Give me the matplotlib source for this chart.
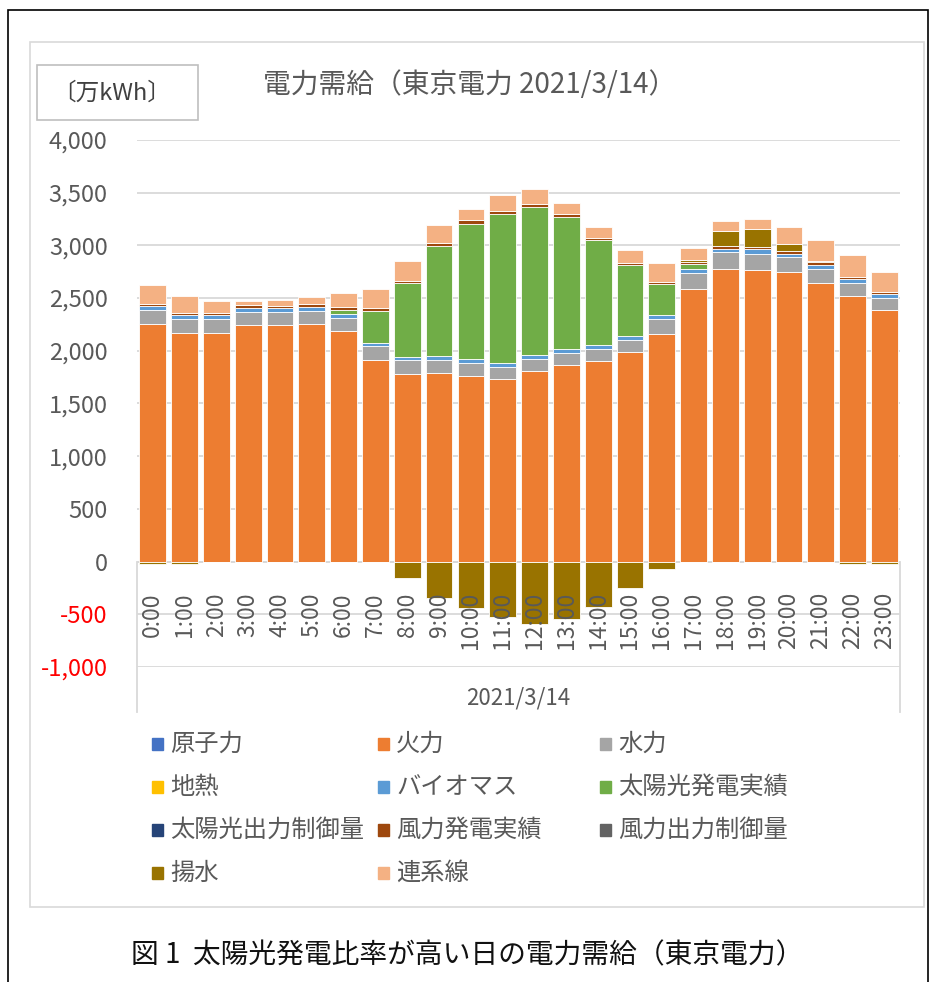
"""Tokyo Electric supply/demand stacked bars for 2021/3/14."""

import matplotlib
matplotlib.use("Agg")
import matplotlib.pyplot as plt
from matplotlib.patches import Rectangle
import numpy as np

plt.rcParams["font.family"] = ["Noto Sans CJK JP", "DejaVu Sans"]

hours = [f"{h}:00" for h in range(24)]

series_names = ["原子力", "火力", "水力", "地熱", "バイオマス", "太陽光発電実績",
                "太陽光出力制御量", "風力発電実績", "風力出力制御量", "揚水", "連系線"]
series_colors = ["#4472C4", "#ED7D31", "#A5A5A5", "#FFC000", "#5B9BD5", "#70AD47",
                 "#264478", "#9E480E", "#636363", "#997300", "#F4B183"]

nuclear = [0] * 24
thermal = [2255, 2166, 2166, 2242, 2242, 2251, 2185, 1914, 1784, 1793, 1758, 1733,
           1806, 1866, 1904, 1986, 2157, 2587, 2773, 2764, 2745, 2641, 2517, 2384]
hydro = [136, 136, 136, 130, 124, 130, 127, 132, 126, 120, 130, 117,
         117, 117, 117, 120, 146, 155, 162, 158, 146, 139, 127, 121]
geothermal = [0] * 24
biomass = [35, 38, 35, 38, 44, 38, 38, 32, 35, 41, 32, 38,
           38, 35, 38, 35, 34, 35, 35, 41, 31, 38, 38, 35]
solar = [0, 0, 0, 0, 0, 0, 41, 303, 696, 1044, 1287, 1414,
         1407, 1255, 993, 674, 294, 44, 0, 0, 0, 0, 0, 0]
solar_curtail = [0] * 24
wind = [22, 22, 25, 25, 19, 29, 28, 29, 25, 29, 31, 28,
        22, 22, 22, 22, 26, 25, 28, 26, 26, 22, 22, 22]
wind_curtail = [0] * 24
pumped = [-25, -25, 0, 0, 0, 0, 0, 0, -152, -348, -436, -522,
          -591, -544, -427, -250, -66, 20, 139, 164, 63, 10, -25, -25]
interconnect = [174, 162, 114, 41, 51, 60, 130, 180, 187, 167, 111, 152,
                149, 108, 104, 120, 172, 107, 95, 95, 167, 202, 206, 189]

series_values = [nuclear, thermal, hydro, geothermal, biomass, solar,
                 solar_curtail, wind, wind_curtail, pumped, interconnect]

yticks = list(range(-1000, 4001, 500))

W, H = 936, 982
TXT = "#595959"
GRID = "#d9d9d9"


def fx(px):
    return px / W


def fy(py):
    return 1 - py / H


def main() -> None:
    fig = plt.figure(figsize=(W / 100, H / 100), dpi=100)

    # outer frame and chart area box
    fig.patches.append(Rectangle((fx(8), fy(1000)), fx(928) - fx(8), fy(10) - fy(1000),
                                 transform=fig.transFigure, fill=False,
                                 edgecolor="black", lw=1.2))
    fig.patches.append(Rectangle((fx(30), fy(907)), fx(924) - fx(30), fy(42) - fy(907),
                                 transform=fig.transFigure, fill=False,
                                 edgecolor=GRID, lw=1.2))

    left, right, top, bottom = 136.8, 900.4, 140, 667
    ax = fig.add_axes([fx(left), fy(bottom), fx(right) - fx(left), fy(top) - fy(bottom)])

    x = np.arange(len(hours))
    pos_base = np.zeros(len(hours))
    neg_base = np.zeros(len(hours))
    for name, color, vals in zip(series_names, series_colors, series_values):
        v = np.array(vals, dtype=float)
        pos = np.where(v > 0, v, 0)
        neg = np.where(v < 0, v, 0)
        ax.bar(x, pos, bottom=pos_base, width=0.84, color=color,
               edgecolor="white", linewidth=0.6, zorder=2)
        if neg.any():
            ax.bar(x, neg, bottom=neg_base, width=0.84, color=color,
                   edgecolor="white", linewidth=0.6, zorder=2)
        pos_base += pos
        neg_base += neg

    ax.set_xlim(-0.5, len(hours) - 0.5)
    ax.set_ylim(-1000, 4000)
    ax.set_yticks(yticks)
    ax.set_yticklabels([f"{t:,}" for t in yticks])
    ax.tick_params(axis="y", length=0, pad=21, labelsize=17, labelcolor=TXT)
    for lab, t in zip(ax.get_yticklabels(), yticks):
        if t < 0:
            lab.set_color("red")
    ax.set_xticks([])
    for s in ax.spines.values():
        s.set_visible(False)
    ax.set_axisbelow(True)
    ax.yaxis.grid(True, color=GRID, lw=1.3)
    ax.axhline(0, color=GRID, lw=1.3, zorder=1)

    # hour labels sit just under the zero line, over the negative bars
    for i, h in enumerate(hours):
        ax.text(i, -290, h, rotation=90, ha="center", va="top",
                fontsize=16.5, color=TXT, zorder=5)

    # date category level
    y0 = 1000 / 5000
    yb = (bottom - 712) / (bottom - top)
    for xa in (0, 1):
        ax.plot([xa, xa], [y0, yb], transform=ax.transAxes, color=GRID,
                lw=1.3, clip_on=False)
    ax.text(0.5, (bottom - 698) / (bottom - top), "2021/3/14", transform=ax.transAxes,
            ha="center", va="center", fontsize=16, color=TXT)

    # title and unit box
    fig.text(fx(470), fy(85), "電力需給（東京電力 2021/3/14）", ha="center", va="center",
             fontsize=20, color=TXT)
    fig.patches.append(Rectangle((fx(37), fy(120)), fx(198) - fx(37), fy(65) - fy(120),
                                 transform=fig.transFigure, fill=False,
                                 edgecolor="#bfbfbf", lw=1.2))
    fig.text(fx(112), fy(93), "〔万kWh〕", ha="center", va="center",
             fontsize=17, color="#404040")

    # legend, row-major in 3 columns
    col_x = [152, 378, 600]
    row_y = [744, 787, 830, 873]
    for i, (name, color) in enumerate(zip(series_names, series_colors)):
        r, c = divmod(i, 3)
        mx, my = col_x[c], row_y[r]
        fig.patches.append(Rectangle((fx(mx), fy(my + 6)), fx(11), 12 / H,
                                     transform=fig.transFigure, color=color))
        fig.text(fx(mx + 18), fy(my), name, ha="left", va="center",
                 fontsize=17.5, color=TXT)

    fig.text(fx(467), fy(955), "図 1  太陽光発電比率が高い日の電力需給（東京電力）",
             ha="center", va="center", fontsize=20, color="#111111")

    fig.savefig("out.png", dpi=100)


if __name__ == "__main__":
    main()
